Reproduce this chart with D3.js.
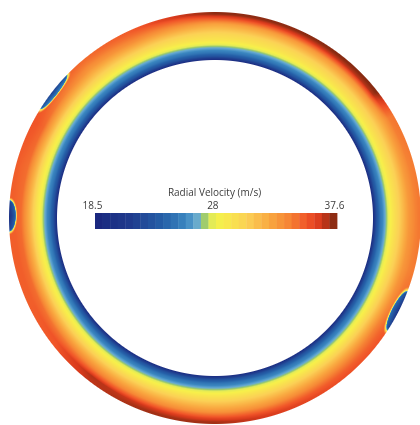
<!DOCTYPE html>
<html>
<head>
<meta charset="utf-8">
<script src="https://cdn.jsdelivr.net/npm/d3@7"></script>
<style>
  html, body { margin: 0; padding: 0; background: #fff; }
  #chart { position: relative; width: 420px; height: 425px; overflow: hidden; background: #fff; }
  #chart canvas, #chart svg { position: absolute; left: 0; top: 0; }
</style>
</head>
<body>
<div id="chart"></div>
<script>
// ---- colour map (value range of the legend) ----
const velMin = 18.5, velMax = 37.6;
const tickValues = [18.5, 28, 37.6];
const tickLabels = ["18.5", "28", "37.6"];
const colorPos = [0, 0.02, 0.145, 0.28, 0.375, 0.42, 0.45, 0.48, 0.52, 0.63, 0.72, 0.79, 0.88, 0.93, 0.97, 1];
const colorHex = ["#18237a", "#1a2a80", "#1f3b8d", "#2560a8", "#3a86c0", "#66a9d2", "#98c870", "#e0ea58",
                  "#f7f04a", "#fbd055", "#f9a840", "#f68a36", "#f05428", "#d83a1c", "#a03015", "#7a2810"];

// ---- radial velocity profile near the inner wall (fraction of gap from inner wall) ----
const innerFrac = [0, 0.03, 0.08, 0.15, 0.22, 0.28, 0.33, 0.42];
const innerVel  = [19.0, 21.0, 23.0, 24.8, 26.0, 27.0, 28.0, 29.2];

// ---- outer part of the gap, sampled by angle (degrees clockwise from top) ----
const outerFrac = [0.55, 0.75, 0.88, 0.96];
const angles = [0, 20, 40, 52, 60, 75, 90, 105, 125, 145, 165, 180, 200, 218, 232, 245, 260, 285, 298, 320, 335, 350, 360];
const vel55  = [30.2, 30.2, 30.4, 30.4, 30.4, 30.4, 30.6, 30.6, 31.0, 31.0, 30.8, 30.8, 31.0, 31.2, 31.2, 31.4, 31.6, 31.5, 31.6, 30.8, 30.8, 30.4, 30.2];
const vel75  = [32.5, 32.8, 33.0, 33.2, 32.6, 32.8, 33.0, 33.0, 33.8, 33.5, 33.2, 33.2, 33.6, 34.0, 34.2, 34.5, 34.6, 34.5, 34.7, 33.0, 33.4, 33.0, 32.5];
const vel88  = [35.6, 36.0, 36.5, 36.8, 34.0, 33.8, 33.8, 33.8, 34.8, 35.0, 35.3, 35.8, 36.3, 36.8, 35.4, 35.0, 35.0, 34.8, 35.2, 34.0, 34.5, 35.0, 35.6];
const vel96  = [37.3, 37.3, 37.4, 37.4, 34.2, 34.0, 34.2, 34.0, 35.2, 35.5, 36.2, 37.0, 37.0, 36.6, 35.2, 35.0, 35.0, 35.0, 35.3, 34.5, 35.0, 36.4, 37.3];

// ---- low-velocity pockets attached to the outer wall ----
const pocketAngle     = [117, 270.6, 308];
const pocketHalfWidth = [7.5, 5.3, 7.5];
const pocketDepth     = [0.18, 0.18, 0.14];
const pocketVel       = [20.5, 20.0, 21.5];

// ---- geometry ----
const W = 420, H = 425;
const cx = 215, cy = 218, rIn = 158, rOut = 206;

const color = d3.scaleLinear()
  .domain(colorPos.map(t => velMin + t * (velMax - velMin)))
  .range(colorHex)
  .interpolate(d3.interpolateRgb)
  .clamp(true);

// colour lookup table
const lutN = 1024;
const lut = d3.range(lutN).map(i => d3.rgb(color(velMin + (velMax - velMin) * i / (lutN - 1))));

// velocity table over (angle, radial fraction)
const angScales = [vel55, vel75, vel88, vel96].map(v => d3.scaleLinear().domain(angles).range(v));
const nA = 721, nF = 121;
const table = new Float32Array(nA * nF);
const fracDomain = innerFrac.concat(outerFrac);
for (let i = 0; i < nA; i++) {
  const a = i * 0.5;
  const rad = d3.scaleLinear()
    .domain(fracDomain)
    .range(innerVel.concat(angScales.map(s => s(a))))
    .clamp(true);
  for (let j = 0; j < nF; j++) table[i * nF + j] = rad(j / (nF - 1));
}

function baseVel(a, f) {
  const ai = a / 0.5, fj = f * (nF - 1);
  const i0 = Math.min(nA - 2, Math.floor(ai)), j0 = Math.min(nF - 2, Math.floor(fj));
  const ta = ai - i0, tf = fj - j0;
  const v00 = table[i0 * nF + j0], v01 = table[i0 * nF + j0 + 1];
  const v10 = table[(i0 + 1) * nF + j0], v11 = table[(i0 + 1) * nF + j0 + 1];
  return (v00 * (1 - tf) + v01 * tf) * (1 - ta) + (v10 * (1 - tf) + v11 * tf) * ta;
}

function smoothstep(e0, e1, x) {
  const t = Math.max(0, Math.min(1, (x - e0) / (e1 - e0)));
  return t * t * (3 - 2 * t);
}

const chart = d3.select("#chart");
const canvas = chart.append("canvas").attr("width", W).attr("height", H).node();
const ctx = canvas.getContext("2d");
const img = ctx.createImageData(W, H);
const px = img.data;

for (let y = 0; y < H; y++) {
  for (let x = 0; x < W; x++) {
    const dx = x + 0.5 - cx, dy = y + 0.5 - cy;
    const r = Math.hypot(dx, dy);
    if (r < rIn - 1 || r > rOut + 1) continue;
    const cov = Math.max(0, Math.min(1, r - rIn + 0.5)) * Math.max(0, Math.min(1, rOut - r + 0.5));
    if (cov <= 0) continue;
    const f = Math.max(0, Math.min(1, (r - rIn) / (rOut - rIn)));
    let a = Math.atan2(dx, -dy) * 180 / Math.PI;
    if (a < 0) a += 360;
    let v = baseVel(a, f);
    for (let k = 0; k < pocketAngle.length; k++) {
      let da = a - pocketAngle[k];
      if (da > 180) da -= 360;
      if (da < -180) da += 360;
      const u = da / pocketHalfWidth[k], w = (1 - f) / pocketDepth[k];
      const d = Math.sqrt(u * u + w * w);
      if (d < 1.05) {
        const m = 1 - smoothstep(0.7, 1.0, d);
        const pv = pocketVel[k] + 5 * w + 2 * Math.abs(u);
        v = v * (1 - m) + pv * m;
      }
    }
    const li = Math.max(0, Math.min(lutN - 1, Math.round((v - velMin) / (velMax - velMin) * (lutN - 1))));
    const c = lut[li];
    const o = (y * W + x) * 4;
    px[o] = c.r; px[o + 1] = c.g; px[o + 2] = c.b; px[o + 3] = Math.round(255 * cov);
  }
}
ctx.putImageData(img, 0, 0);

// ---- legend ----
const svg = chart.append("svg").attr("width", W).attr("height", H);
const xLeg = d3.scaleLinear().domain([velMin, velMax]).range([95, 337]);
const nSeg = 32;
const step = (velMax - velMin) / nSeg;
svg.append("g")
  .selectAll("rect")
  .data(d3.range(nSeg))
  .join("rect")
  .attr("x", i => xLeg(velMin + i * step))
  .attr("y", 213)
  .attr("width", i => xLeg(velMin + (i + 1) * step) - xLeg(velMin + i * step) + 0.4)
  .attr("height", 16)
  .attr("fill", i => color(velMin + (i + 0.5) * step));

svg.append("text")
  .attr("x", 214.5)
  .attr("y", 196)
  .attr("text-anchor", "middle")
  .attr("font-family", "'Open Sans', 'Noto Sans', sans-serif")
  .attr("font-size", 10)
  .attr("fill", "#3c3c3c")
  .text("Radial Velocity (m/s)");

svg.append("g")
  .selectAll("text")
  .data(tickValues)
  .join("text")
  .attr("x", d => xLeg(d) - 2.5)
  .attr("y", 209)
  .attr("text-anchor", "middle")
  .attr("font-family", "'Open Sans', 'Noto Sans', sans-serif")
  .attr("font-size", 10)
  .attr("fill", "#3c3c3c")
  .text((d, i) => tickLabels[i]);
</script>
</body>
</html>
